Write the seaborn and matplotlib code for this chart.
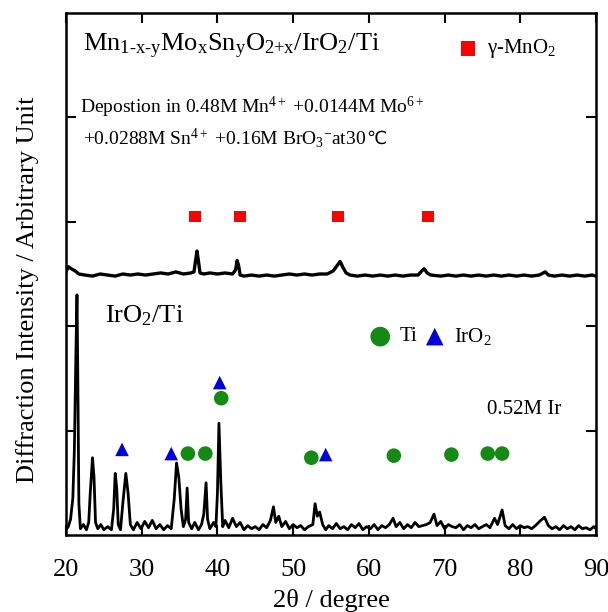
import matplotlib
matplotlib.use("Agg")
import matplotlib.pyplot as plt
import seaborn as sns
import pandas as pd

# Bottom trace: IrO2/Ti (2theta in degree, intensity in arbitrary units)
bottom_tt = [20.0, 20.3, 20.6, 20.9, 21.1, 21.3, 21.45, 21.55, 21.7, 21.9, 22.3, 22.7,
             23.0, 23.2, 23.5, 23.7, 23.9, 24.2, 24.6, 25.0, 25.5, 26.0, 26.3, 26.5,
             26.7, 26.9, 27.2, 27.5, 27.9, 28.2, 28.5, 28.9, 29.4, 29.9, 30.4, 30.9,
             31.4, 31.9, 32.4, 32.9, 33.4, 33.9, 34.3, 34.6, 34.9, 35.2, 35.5, 35.8,
             36.0, 36.2, 36.6, 37.0, 37.5, 37.9, 38.2, 38.5, 38.7, 39.0, 39.5, 39.8,
             40.0, 40.2, 40.45, 40.7, 41.0, 41.5, 42.0, 42.5, 43.0, 43.5, 44.0, 44.5,
             45.0, 45.5, 46.0, 46.5, 47.0, 47.4, 47.7, 48.1, 48.5, 49.0, 49.5, 50.0,
             50.5, 51.0, 51.5, 52.0, 52.6, 52.9, 53.2, 53.5, 53.9, 54.3, 54.7, 55.2,
             55.7, 56.2, 56.7, 57.2, 57.7, 58.2, 58.7, 59.2, 59.7, 60.2, 60.7, 61.2,
             61.7, 62.2, 62.7, 63.2, 63.6, 64.1, 64.6, 65.1, 65.6, 66.1, 66.6, 67.1,
             67.6, 68.1, 68.6, 69.0, 69.5, 70.0, 70.5, 71.0, 71.5, 72.0, 72.5, 73.0,
             73.5, 74.0, 74.5, 75.0, 75.5, 76.0, 76.6, 77.0, 77.6, 78.0, 78.5, 79.0,
             79.5, 80.0, 80.5, 81.0, 81.5, 82.0, 82.7, 83.2, 83.7, 84.2, 84.7, 85.2,
             85.7, 86.2, 86.7, 87.2, 87.7, 88.2, 88.7, 89.2, 89.7, 90.0]
bottom_int = [0.05, 0.08, 0.15, 0.35, 0.8, 1.7, 2.3, 1.6, 0.3, 0.06, 0.10, 0.05,
              0.12, 0.40, 0.74, 0.55, 0.12, 0.06, 0.10, 0.05, 0.08, 0.05, 0.25, 0.59,
              0.45, 0.10, 0.05, 0.30, 0.59, 0.40, 0.10, 0.05, 0.12, 0.06, 0.13, 0.07,
              0.14, 0.06, 0.10, 0.05, 0.09, 0.06, 0.35, 0.69, 0.55, 0.25, 0.08, 0.15,
              0.45, 0.12, 0.06, 0.12, 0.05, 0.10, 0.20, 0.50, 0.15, 0.06, 0.12, 0.08,
              0.40, 1.07, 0.50, 0.08, 0.14, 0.07, 0.16, 0.08, 0.12, 0.05, 0.09, 0.06,
              0.08, 0.05, 0.10, 0.07, 0.14, 0.27, 0.12, 0.18, 0.08, 0.13, 0.06, 0.10,
              0.07, 0.09, 0.05, 0.08, 0.10, 0.30, 0.18, 0.22, 0.10, 0.05, 0.09, 0.06,
              0.11, 0.06, 0.08, 0.05, 0.10, 0.07, 0.11, 0.05, 0.08, 0.06, 0.10, 0.05,
              0.09, 0.07, 0.10, 0.16, 0.08, 0.12, 0.06, 0.10, 0.07, 0.12, 0.08, 0.09,
              0.10, 0.12, 0.20, 0.09, 0.13, 0.06, 0.10, 0.08, 0.07, 0.10, 0.05, 0.09,
              0.07, 0.10, 0.06, 0.08, 0.10, 0.07, 0.16, 0.10, 0.24, 0.09, 0.06, 0.10,
              0.06, 0.09, 0.07, 0.08, 0.06, 0.09, 0.14, 0.17, 0.09, 0.06, 0.08, 0.05,
              0.09, 0.06, 0.08, 0.05, 0.09, 0.06, 0.07, 0.05, 0.08, 0.06]

# Top trace: Mn1-x-yMoxSnyO2+x/IrO2/Ti (offset upward)
top_tt = [20.0, 20.3, 20.7, 21.2, 21.7, 22.5, 23.5, 24.5, 25.5, 26.5, 27.5, 28.5,
          29.5, 30.5, 31.5, 32.5, 33.5, 34.5, 35.5, 36.5, 36.9, 37.1, 37.3, 37.5,
          37.7, 38.2, 39.0, 40.0, 41.0, 42.0, 42.4, 42.6, 42.8, 43.0, 43.5, 44.5,
          45.5, 46.5, 47.5, 48.5, 49.5, 50.5, 51.5, 52.5, 53.5, 54.5, 55.3, 55.8,
          56.2, 56.6, 57.0, 57.5, 58.5, 59.5, 60.5, 61.5, 62.5, 63.5, 64.5, 65.5,
          66.5, 67.0, 67.3, 67.7, 68.2, 69.5, 70.5, 71.5, 72.5, 73.5, 74.5, 75.5,
          76.5, 77.5, 78.5, 79.5, 80.5, 81.5, 82.5, 83.3, 83.7, 84.5, 85.5, 86.5,
          87.5, 88.5, 89.5, 90.0]
top_int = [2.52, 2.57, 2.55, 2.53, 2.50, 2.49, 2.48, 2.50, 2.49, 2.48, 2.50, 2.49,
           2.50, 2.49, 2.50, 2.51, 2.50, 2.52, 2.50, 2.51, 2.52, 2.62, 2.72, 2.62,
           2.51, 2.50, 2.51, 2.50, 2.51, 2.50, 2.54, 2.63, 2.58, 2.49, 2.48, 2.49,
           2.48, 2.49, 2.48, 2.49, 2.50, 2.49, 2.50, 2.49, 2.50, 2.50, 2.53, 2.58,
           2.62, 2.56, 2.51, 2.49, 2.48, 2.49, 2.48, 2.49, 2.48, 2.49, 2.48, 2.49,
           2.49, 2.53, 2.55, 2.51, 2.49, 2.48, 2.49, 2.48, 2.49, 2.48, 2.49, 2.48,
           2.49, 2.48, 2.49, 2.48, 2.49, 2.48, 2.49, 2.52, 2.49, 2.48, 2.49, 2.48,
           2.49, 2.48, 2.49, 2.48]

# Phase markers
mno2_tt = [37.0, 43.0, 55.9, 67.8]
mno2_y = [3.05, 3.05, 3.05, 3.05]
iro2_tt = [27.4, 33.9, 40.3, 54.3]
iro2_y = [0.82, 0.78, 1.46, 0.77]
ti_tt = [36.1, 38.4, 40.5, 52.4, 63.3, 70.9, 75.7, 77.6]
ti_y = [0.78, 0.78, 1.31, 0.74, 0.76, 0.77, 0.78, 0.78]

x_ticks = [20, 30, 40, 50, 60, 70, 80, 90]
x_labels = ["20", "30", "40", "50", "60", "70", "80", "90"]

sns.set_style("ticks")
plt.rcParams['font.family'] = ['Liberation Serif', 'DejaVu Sans']
plt.rcParams['mathtext.fontset'] = 'custom'
plt.rcParams['mathtext.rm'] = 'Liberation Serif'
plt.rcParams['mathtext.it'] = 'Liberation Serif'
for key in ['text.color', 'axes.labelcolor', 'xtick.color', 'ytick.color',
            'axes.edgecolor']:
    plt.rcParams[key] = 'black'

fig = plt.figure(figsize=(6.08, 6.12), dpi=100)
ax = fig.add_axes([66 / 608, 1 - 535 / 612, 530 / 608, 522 / 612])

top_df = pd.DataFrame({"tt": top_tt, "I": top_int})
bot_df = pd.DataFrame({"tt": bottom_tt, "I": bottom_int})
sns.lineplot(x="tt", y="I", data=top_df, color="black", lw=2.4, sort=False,
             estimator=None, ax=ax)
sns.lineplot(x="tt", y="I", data=bot_df, color="black", lw=2.0, sort=False,
             estimator=None, ax=ax)

sns.scatterplot(x=mno2_tt, y=mno2_y, marker="s", color="#ff0000", s=70,
                edgecolor="none", ax=ax)
sns.scatterplot(x=iro2_tt, y=iro2_y, marker="^", color="#0000dd", s=95,
                edgecolor="none", ax=ax)
sns.scatterplot(x=ti_tt, y=ti_y, marker="o", color="#138a13", s=110,
                edgecolor="none", ax=ax)

# legend-like keys
sns.scatterplot(x=[73.1], y=[4.66], marker="s", color="#ff0000", s=110,
                edgecolor="none", ax=ax)
ax.text(75.6, 4.66, r"γ-MnO$_2$", fontsize=15, va="center")
sns.scatterplot(x=[61.5], y=[1.9], marker="o", color="#138a13", s=200,
                edgecolor="none", ax=ax)
ax.text(64.0, 1.9, "Ti", fontsize=15, va="center")
sns.scatterplot(x=[68.7], y=[1.9], marker="^", color="#0000dd", s=160,
                edgecolor="none", ax=ax)
ax.text(71.2, 1.9, r"IrO$_2$", fontsize=15, va="center")

# annotations
ax.text(22.3, 4.68, r"Mn$_{1\text{-}x\text{-}y}$Mo$_x$Sn$_y$O$_{2{+}x}$/IrO$_2$/Ti",
        fontsize=19, va="center")
ax.text(21.8, 4.1, r"Depostion in 0.48M Mn$^{4+}$ +0.0144M Mo$^{6+}$",
        fontsize=14, va="center")
t2 = ax.text(22.3, 3.8, r"+0.0288M Sn$^{4+}$ +0.16M BrO$_3$$^{-}$at30",
             fontsize=14, va="center")
ax.annotate("℃", xy=(1, 0.5), xycoords=t2, va="center", ha="left",
            fontsize=13, family="DejaVu Sans")
ax.text(25.2, 2.1, r"IrO$_2$/Ti", fontsize=19, va="center")
ax.text(75.6, 1.2, "0.52M Ir", fontsize=15, va="center")

ax.set_xlim(20, 90)
ax.set_ylim(0, 5)
ax.set_xticks(x_ticks)
ax.set_xticklabels(x_labels, fontsize=19, family="Liberation Serif")
ax.set_yticks([1, 2, 3, 4])
ax.set_yticklabels([])
ax.tick_params(direction="in", length=7, width=1.5, top=True, right=True)
ax.tick_params(axis="x", pad=17)
for sp in ax.spines.values():
    sp.set_linewidth(1.8)

ax.set_xlabel("2θ / degree", fontsize=19, labelpad=6, family="Liberation Serif")
ax.set_ylabel("Diffraction Intensity / Arbitrary Unit", fontsize=19,
              family="Liberation Serif")
ax.yaxis.set_label_coords(-0.05, 0.47)

fig.savefig("out.png", dpi=100)
